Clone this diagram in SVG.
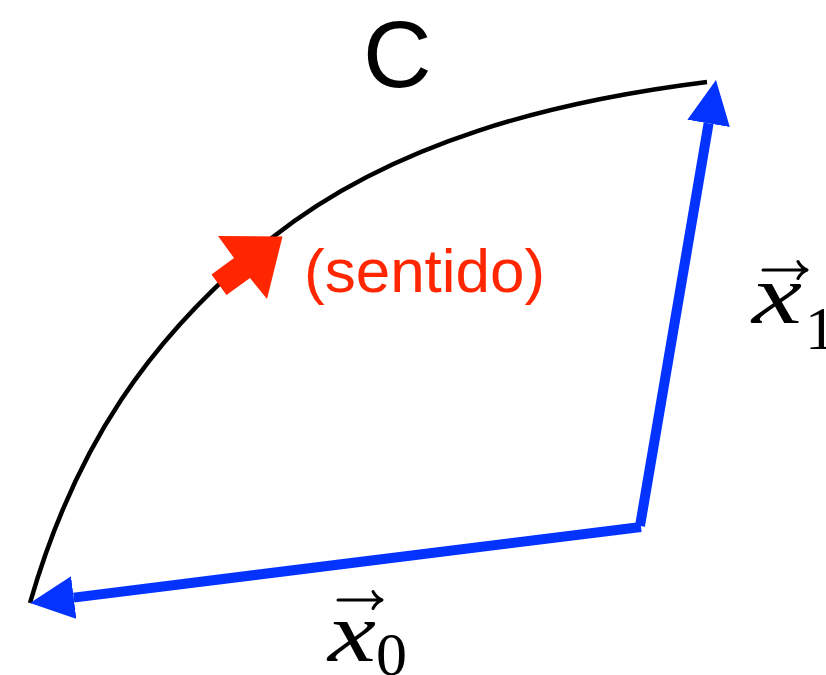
<svg xmlns="http://www.w3.org/2000/svg" width="826" height="675" viewBox="0 0 826 675">
  <style>
    .curve { fill: none; stroke: #000000; stroke-width: 4.5; }
    .vec { fill: none; stroke: #0433FF; stroke-width: 10; stroke-linecap: butt; }
    .label { font-family: "Liberation Sans", Arial, Helvetica, sans-serif; }
    .math { font-family: "Liberation Serif", "Times New Roman", serif; fill: #000000; }
    .vecbar { fill: none; stroke: #000000; stroke-width: 3; stroke-linecap: round; stroke-linejoin: round; }
  </style>
  <defs>
    <marker id="bluehead" markerUnits="userSpaceOnUse" markerWidth="44" markerHeight="44" viewBox="0 0 44 44" refX="0" refY="22" orient="auto">
      <path d="M0,0.5 L44,22 L0,43.5 Z" fill="#0433FF"/>
    </marker>
  </defs>
  <rect width="826" height="675" fill="#FFFFFF"/>

  <g id="connectors">
    <g id="curve-C">
      <path class="curve" d="M30,603 C74.2,449.2 147.6,337.6 273,237 C393.7,141.4 554.2,101.1 707,82"/>
    </g>
    <g id="vector-x0">
      <line class="vec" x1="641" y1="527" x2="73.7" y2="597.6" marker-end="url(#bluehead)"/>
    </g>
    <g id="vector-x1">
      <line class="vec" x1="640" y1="526" x2="708.6" y2="123.4" marker-end="url(#bluehead)"/>
    </g>
    <g id="sense-arrow">
      <polygon points="282.5,236.5 218,236 234,258 211.5,274.5 226.5,295 250,278 267,299" fill="#FF2600"/>
    </g>
  </g>

  <g id="label-C">
    <text class="label" x="363" y="87" font-size="95" fill="#000000">C</text>
  </g>
  <g id="label-sentido">
    <text class="label" x="304" y="292" font-size="62" fill="#FF2600">(sentido)</text>
  </g>
  <g id="label-x1">
    <path class="vecbar" d="M763,270 L806,270 M798,261.5 Q801,267.5 807,270 Q801,272.5 798,278.5"/>
    <text class="math" x="752" y="323" font-size="84" font-style="italic" textLength="50" lengthAdjust="spacingAndGlyphs">x</text>
    <text class="math" x="805" y="349" font-size="62">1</text>
  </g>
  <g id="label-x0">
    <path class="vecbar" d="M338,600 L381,600 M373,591.5 Q376,597.5 382,600 Q376,602.5 373,608.5"/>
    <text class="math" x="328" y="661" font-size="84" font-style="italic" textLength="48" lengthAdjust="spacingAndGlyphs">x</text>
    <text class="math" x="376" y="675" font-size="62">0</text>
  </g>
</svg>
